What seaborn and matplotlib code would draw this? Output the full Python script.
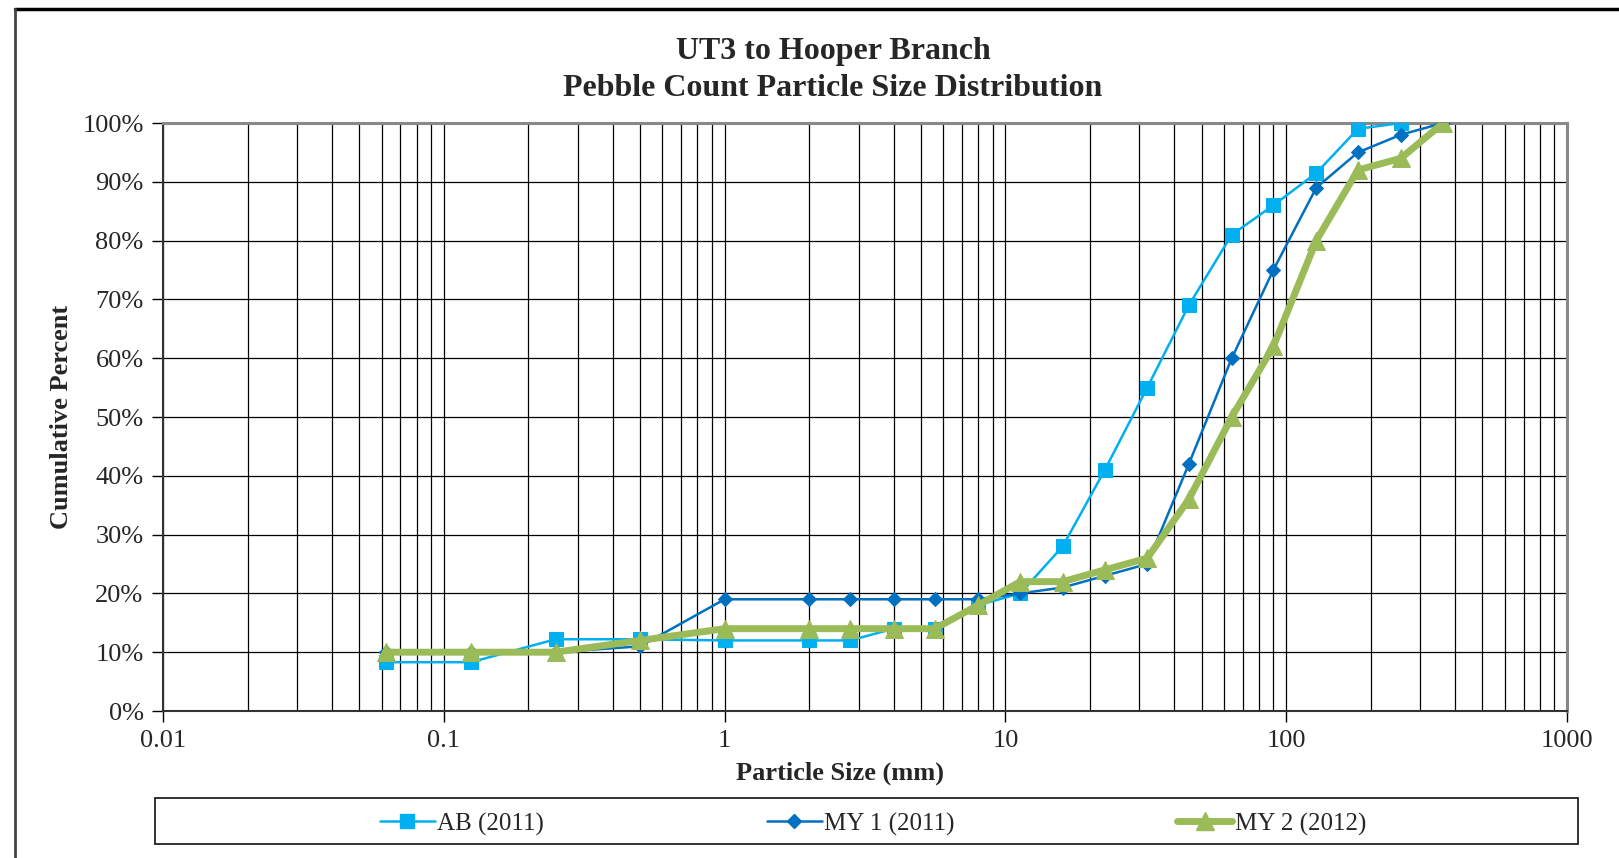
import numpy as np
import pandas as pd
import matplotlib
matplotlib.use("Agg")
import matplotlib.pyplot as plt
import seaborn as sns
from matplotlib.patches import Rectangle
from matplotlib.lines import Line2D
from matplotlib.ticker import FuncFormatter, LogLocator, FixedLocator, NullFormatter

# ---- data ----
sizes = [0.062, 0.125, 0.25, 0.5, 1, 2, 2.8, 4, 5.6, 8, 11.3, 16, 22.6, 32, 45, 64, 90, 128, 180, 256, 362]
ab_2011 = [8.3, 8.3, 12.2, 12.2, 12, 12, 12, 14, 14, 18, 20, 28, 41, 55, 69, 81, 86, 91.5, 99, 100, None]
my1_2011 = [10, 10, 10, 11, 19, 19, 19, 19, 19, 19, 20, 21, 23, 25, 42, 60, 75, 89, 95, 98, 100]
my2_2012 = [10, 10, 10, 12, 14, 14, 14, 14, 14, 18, 22, 22, 24, 26, 36, 50, 62, 80, 92, 94, 100]
series_names = ["AB (2011)", "MY 1 (2011)", "MY 2 (2012)"]
title_lines = ["UT3 to Hooper Branch", "Pebble Count Particle Size Distribution"]
x_label = "Particle Size (mm)"
y_label = "Cumulative Percent"

colors = ["#00B0F0", "#0070C0", "#9BBB59"]
markers = ["s", "D", "^"]
msizes = [10.5, 7.5, 13]
lwidths = [1.8, 1.8, 5]

sns.set_style("white")
plt.rcParams["font.family"] = ["Liberation Serif", "DejaVu Serif"]

fig = plt.figure(figsize=(16.19, 8.58), dpi=100)
ax = fig.add_axes([163 / 1619, 1 - 711 / 858, (1567 - 163) / 1619, (711 - 123) / 858])

all_series = [ab_2011, my1_2011, my2_2012]
for name, vals, c, m, ms, lw in zip(series_names, all_series, colors, markers, msizes, lwidths):
    df = pd.DataFrame({"size": sizes, "pct": vals}).dropna()
    sns.lineplot(data=df, x="size", y="pct", ax=ax, color=c, marker=m, markersize=ms,
                 markeredgecolor=c, markerfacecolor=c, linewidth=lw, sort=False,
                 estimator=None, label=name, legend=False, zorder=3)

ax.set_xscale("log")
ax.set_xlim(0.01, 1000)
ax.set_ylim(0, 100)
ax.xaxis.set_major_locator(FixedLocator([0.01, 0.1, 1, 10, 100, 1000]))
ax.xaxis.set_major_formatter(FuncFormatter(lambda v, p: f"{v:g}"))
ax.xaxis.set_minor_locator(LogLocator(base=10, subs=np.arange(2, 10), numticks=50))
ax.xaxis.set_minor_formatter(NullFormatter())
ax.set_yticks(np.arange(0, 101, 10))
ax.yaxis.set_major_formatter(FuncFormatter(lambda v, p: f"{v:.0f}%"))

ax.grid(True, which="major", axis="both", color="black", linewidth=0.9, zorder=1)
ax.grid(True, which="minor", axis="x", color="black", linewidth=0.9, zorder=1)
ax.set_axisbelow(True)

ax.tick_params(axis="both", which="major", direction="out", length=8, width=1,
               color="black", labelsize=19, pad=6, bottom=True, left=True)
ax.tick_params(axis="x", which="minor", length=0)
for side in ["left", "bottom"]:
    ax.spines[side].set_color("#333333")
    ax.spines[side].set_linewidth(1.5)
for side in ["top", "right"]:
    ax.spines[side].set_color("#888888")
    ax.spines[side].set_linewidth(2.2)

ax.set_xlabel("")
ax.set_ylabel("")
fig.text(840 / 1619, 1 - 773 / 858, x_label, fontsize=19, fontweight="bold",
         ha="center", va="center")
fig.text(62 / 1619, 1 - 417 / 858, y_label, rotation=90, fontsize=19, fontweight="bold",
         ha="center", va="center")

fig.text(833 / 1619, 1 - 52 / 858, title_lines[0], fontsize=23, fontweight="bold", ha="center", va="center")
fig.text(833 / 1619, 1 - 89 / 858, title_lines[1], fontsize=23, fontweight="bold", ha="center", va="center")

# legend box
fig.patches.append(Rectangle((155 / 1619, 1 - 844 / 858), (1578 - 155) / 1619, 46 / 858,
                             transform=fig.transFigure, fill=False, edgecolor="#222222",
                             linewidth=1.3))
handles = [Line2D([0], [0], color=c, marker=m, markersize=ms, markeredgecolor=c, linewidth=lw)
           for c, m, ms, lw in zip(colors, markers, msizes, lwidths)]
fig.legend(handles, series_names, loc="center", bbox_to_anchor=(873 / 1619, 1 - 824 / 858),
           ncol=3, frameon=False, fontsize=18, handlelength=2.2, handletextpad=0.1,
           columnspacing=8.9)

# outer border (top and left)
fig.add_artist(Line2D([15 / 1619, 1.0], [1 - 9 / 858, 1 - 9 / 858], transform=fig.transFigure,
                      color="black", linewidth=2.5))
fig.add_artist(Line2D([15 / 1619, 15 / 1619], [0, 1 - 9 / 858], transform=fig.transFigure,
                      color="#444444", linewidth=2))

fig.savefig("out.png", dpi=100)
